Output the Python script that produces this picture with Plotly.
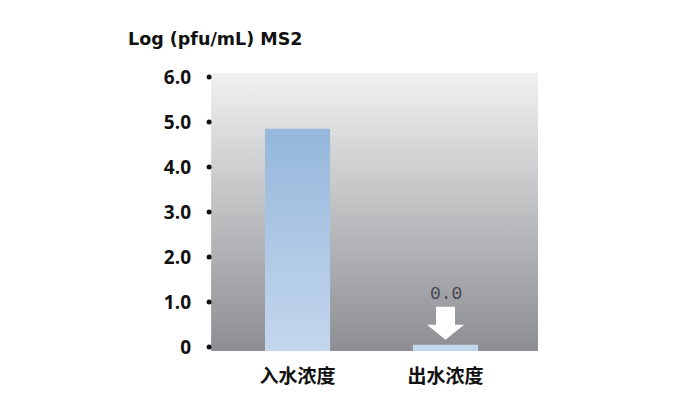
import plotly.graph_objects as go

categories = ["入水浓度", "出水浓度"]
values = [4.85, 0.05]
value_labels = ["", "0.0"]
y_ticks = [0, 1, 2, 3, 4, 5, 6]
y_tick_text = ["0", "1.0", "2.0", "3.0", "4.0", "5.0", "6.0"]

x_range = [-0.605, 1.625]
bg_left = -0.584
y_range = [-0.087, 6.088]
bar_w = 0.44

fig = go.Figure()

# background gradient over the plot area
fig.add_trace(go.Scatter(
    x=[bg_left, x_range[1], x_range[1], bg_left, bg_left],
    y=[y_range[0], y_range[0], y_range[1], y_range[1], y_range[0]],
    mode="lines", line=dict(width=0), fill="toself",
    fillgradient=dict(type="vertical", colorscale=[[0, "#8d8e93"], [0.5, "#bebfc1"], [1, "#f1f1f1"]]),
    hoverinfo="skip", showlegend=False,
))

# bars drawn as gradient-filled rectangles
bar_colors = [
    [[0, "#c4d7ed"], [1, "#95b7db"]],
    [[0, "#c4d7ee"], [1, "#c2d6ec"]],
]
for i, v in enumerate(values):
    x0, x1 = i - bar_w / 2, i + bar_w / 2
    fig.add_trace(go.Scatter(
        x=[x0, x1, x1, x0, x0],
        y=[y_range[0], y_range[0], v, v, y_range[0]],
        mode="lines", line=dict(width=0), fill="toself",
        fillgradient=dict(type="vertical", colorscale=bar_colors[i]),
        name=categories[i], showlegend=False,
    ))

# dot tick marks
fig.add_trace(go.Scatter(
    x=[-0.5975] * len(y_ticks), y=y_ticks,
    mode="markers", marker=dict(size=5, color="#111111"),
    cliponaxis=False, hoverinfo="skip", showlegend=False,
))

# white arrow pointing to the near-zero bar
fig.add_shape(
    type="path", xref="x", yref="y", xsizemode="pixel", ysizemode="pixel",
    xanchor=1, yanchor=values[1],
    path="M -9.5,38 L 9.5,38 L 9.5,20 L 18.5,20 L 0,5 L -18.5,20 L -9.5,20 Z",
    fillcolor="white", line=dict(width=0),
)

fig.add_annotation(
    x=1, y=values[1], text=value_labels[1], showarrow=False,
    yanchor="bottom", yshift=39,
    font=dict(family="Liberation Mono", size=18, color="#454552"),
)

fig.add_annotation(
    xref="paper", yref="paper", x=-0.248, y=1.122, xanchor="left", yanchor="middle",
    text="Log (pfu/mL) MS2", showarrow=False,
    font=dict(family="DejaVu Sans", size=17.5, color="#111111", weight="bold"),
)

fig.update_xaxes(
    range=x_range, tickvals=[0, 1], ticktext=categories,
    showgrid=False, zeroline=False, showline=False, ticks="",
    ticklabelstandoff=12,
    tickfont=dict(family="Noto Sans CJK SC", size=19, color="#111111", weight="bold"),
)
fig.update_yaxes(
    range=y_range, tickvals=y_ticks, ticktext=y_tick_text,
    showgrid=False, zeroline=False, showline=False, ticks="",
    ticklabelstandoff=16,
    tickfont=dict(family="Open Sans", size=19, color="#111111", weight="bold"),
)

fig.update_layout(
    width=672, height=392,
    margin=dict(l=200, r=142, t=65, b=44),
    paper_bgcolor="white", plot_bgcolor="white",
    showlegend=False,
)

fig.write_html("out.html")
